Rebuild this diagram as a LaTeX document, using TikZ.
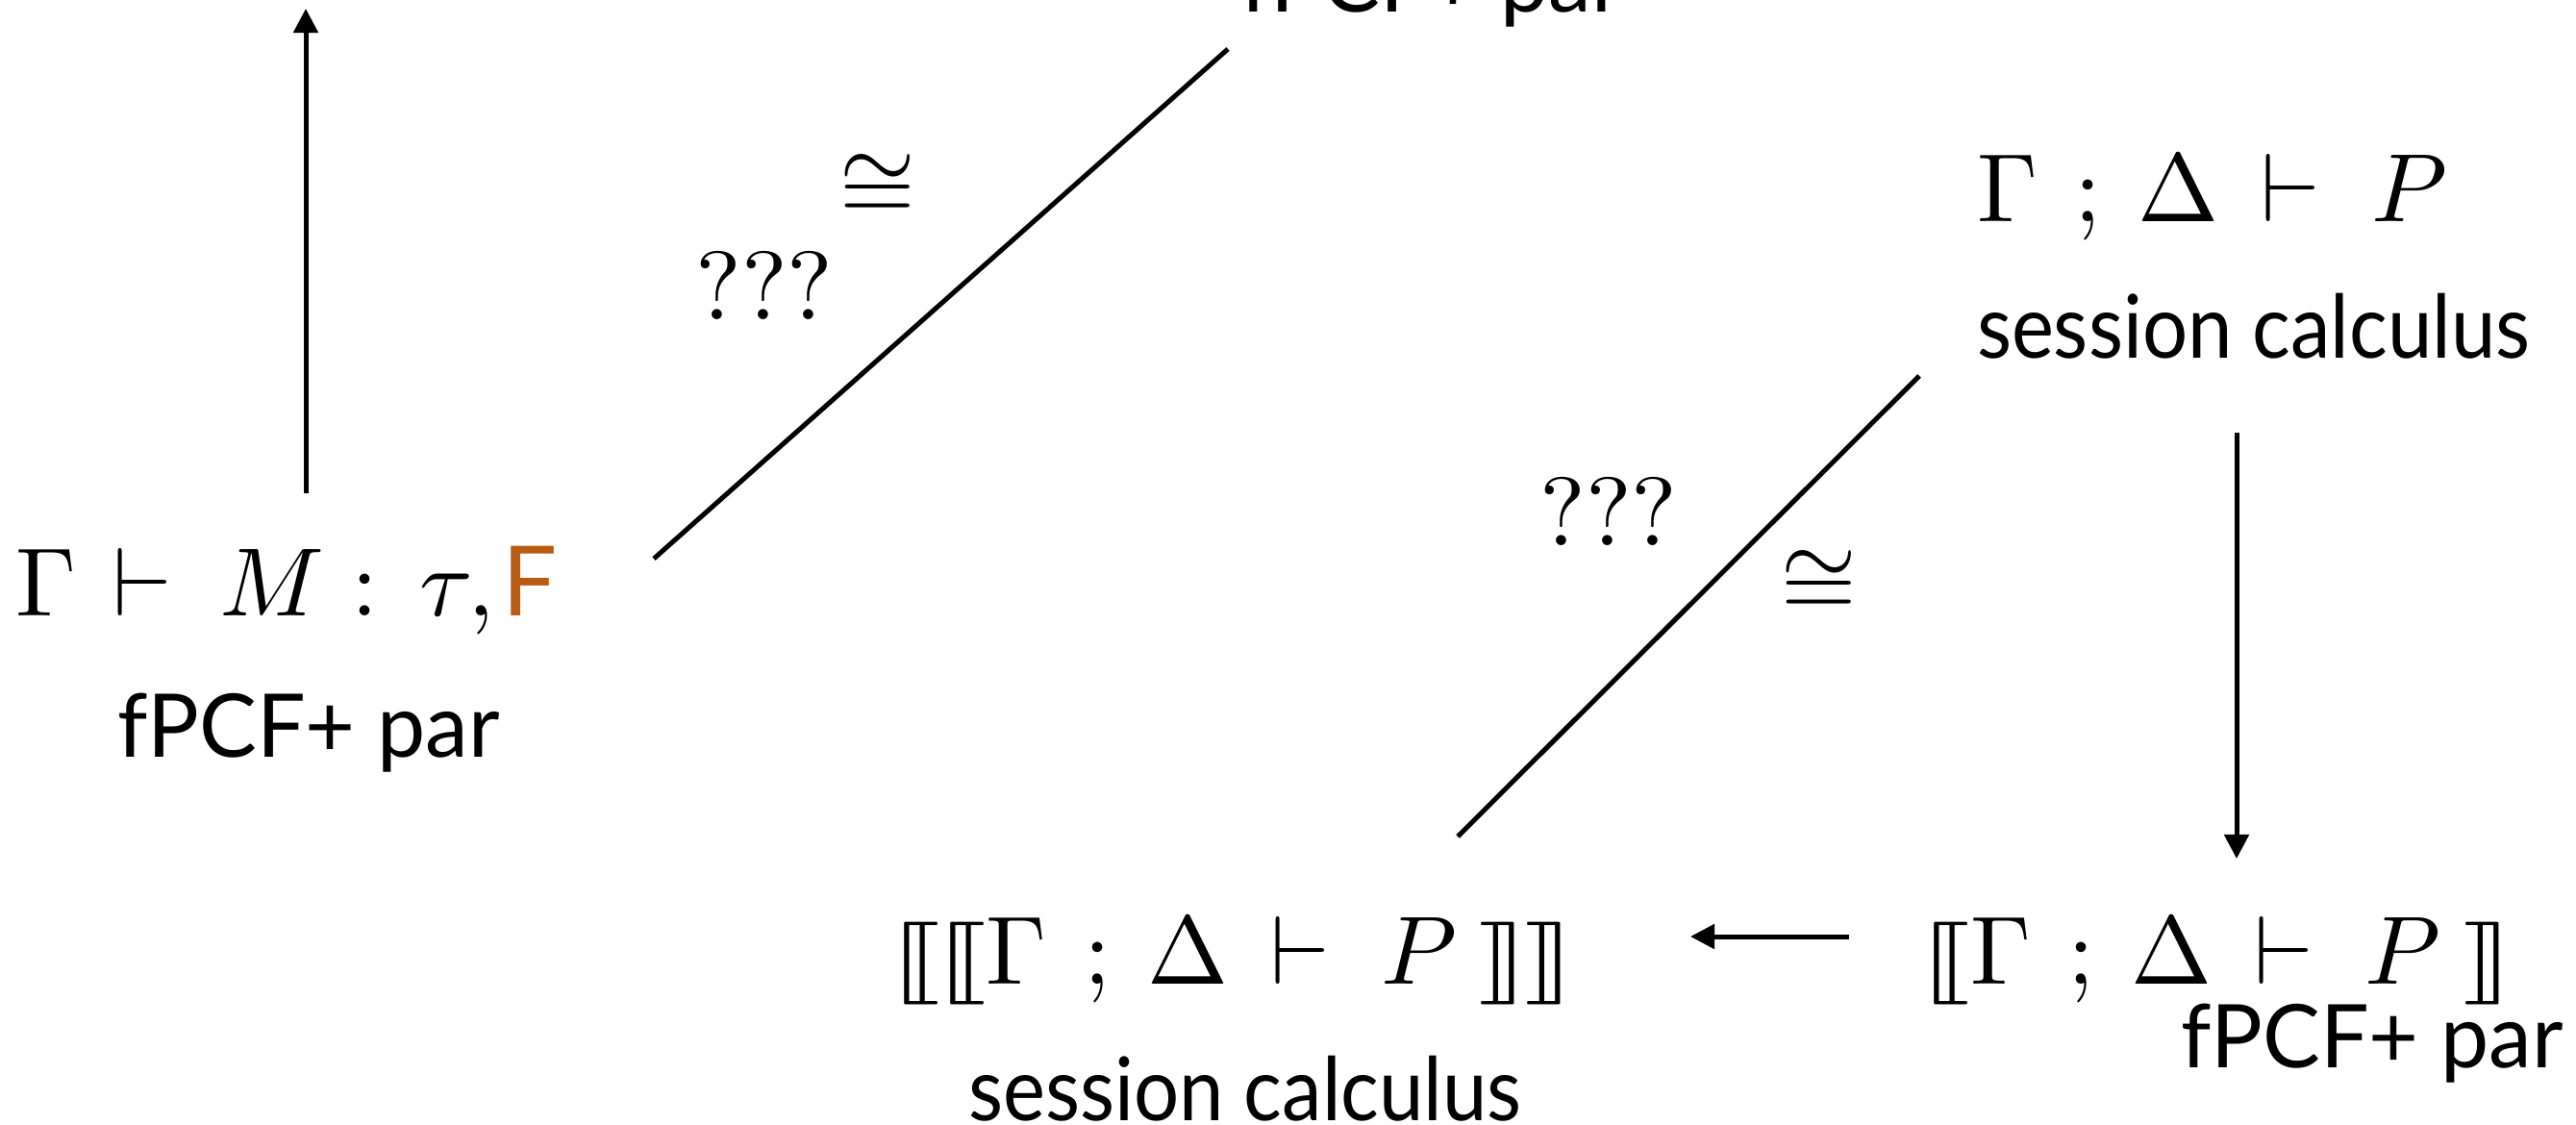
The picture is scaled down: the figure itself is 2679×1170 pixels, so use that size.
\documentclass[tikz,border=0pt]{standalone}
\usepackage{graphicx}
\usepackage{stmaryrd}
\usepackage[no-math]{fontspec}
\setsansfont{Lato}
\newfontfamily\lblA[FakeStretch=0.98]{Lato}
\newfontfamily\lblB[FakeStretch=0.91]{Lato}
\usetikzlibrary{arrows.meta}
\definecolor{forange}{HTML}{BA5B12}
\newcommand{\mbig}[1]{\scalebox{2.87}{$#1$}}
\newcommand{\seq}{\Gamma\mskip6.8mu;\mskip3.8mu\Delta\mskip2.9mu\vdash\mskip4.5mu P}
\newcommand{\lbr}{\mathopen{\scalebox{1.3}[0.85]{$\llbracket$}}}
\newcommand{\rbr}{\mathclose{\scalebox{1.3}[0.85]{$\rrbracket$}}}
\begin{document}
\begin{tikzpicture}[x=0.01cm,y=-0.01cm,
  every node/.style={inner sep=0pt, outer sep=0pt},
  pcflbl/.style={font=\fontsize{26}{31}\selectfont\lblA},
  seslbl/.style={font=\fontsize{26}{31}\selectfont\lblB},
  conn/.style={line width=0.05cm},
  arr/.style={conn,-{Triangle[width=0.25cm,length=0.25cm]}}]
\useasboundingbox (0,0) rectangle (2679,1170);
\clip (0,0) rectangle (2679,1170);

% nodes
\node[anchor=base west] (pcf) at (17,640)
  {\mbig{\Gamma\mskip1.6mu\vdash\mskip3.8mu M : \mskip2.7mu\tau,\mskip-1.5mu\mbox{\sffamily\color{forange}F}}};
\node[pcflbl,anchor=base] (pcflab) at (321,787) {fPCF+ par};
\node[pcflbl,anchor=base] (toplab) at (1489,13) {fPCF+ par};

\node[anchor=base west] (sess) at (2056,230) {\mbig{\seq}};
\node[seslbl,anchor=base west] (sesslab) at (2056,372) {session calculus};

\node[anchor=base east] (den) at (2614,1023)
  {\mbig{\lbr\seq\mskip4mu\rbr}};
\node[pcflbl,anchor=base] (denlab) at (2467,1110) {fPCF+ par};

\node[anchor=base east] (dden) at (1638,1023)
  {\mbig{\lbr\mskip-1mu\lbr\seq\mskip4mu\rbr\mskip-1mu\rbr}};
\node[seslbl,anchor=base] (ddenlab) at (1295,1165) {session calculus};

% edge labels
\node (iso1) at (913,195) {\mbig{\cong}};
\node (q1) at (795,297) {\mbig{\mbox{???}}};
\node (q2) at (1673,532) {\mbig{\mbox{???}}};
\node (iso2) at (1892,607) {\mbig{\cong}};

% connector end points
\coordinate (upS) at (318,513);
\coordinate (upE) at (318,9);
\coordinate (d1S) at (680,581);
\coordinate (d1E) at (1277,51);
\coordinate (d2S) at (1996,391);
\coordinate (d2E) at (1516,870);
\coordinate (dnS) at (2326,450);
\coordinate (dnE) at (2326,893);
\coordinate (lfS) at (1923,974);
\coordinate (lfE) at (1758,974);

% connectors
\draw[arr] (upS) -- (upE);
\draw[conn] (d1S) -- (d1E);
\draw[conn] (d2S) -- (d2E);
\draw[arr] (dnS) -- (dnE);
\draw[arr] (lfS) -- (lfE);
\end{tikzpicture}
\end{document}
